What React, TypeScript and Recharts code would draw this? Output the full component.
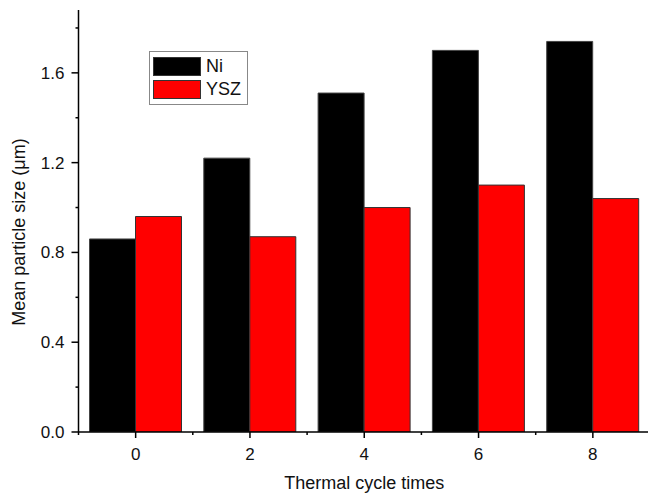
import React from 'react';
import { BarChart, Bar, XAxis, YAxis, Legend } from 'recharts';

// Thermal cycle times (x categories) and mean particle sizes in µm
const CYCLES = [0, 2, 4, 6, 8];
const NI_SIZE = [0.86, 1.22, 1.51, 1.70, 1.74];
const YSZ_SIZE = [0.96, 0.87, 1.00, 1.10, 1.04];

// Major ticks get a label, minor ones only a short tick mark
const X_MAJOR = [0, 2, 4, 6, 8];
const X_MINOR = [-1, 1, 3, 5, 7, 9];
const Y_MAJOR = [0, 0.4, 0.8, 1.2, 1.6];
const Y_MINOR = [0.2, 0.6, 1.0, 1.4, 1.8];

const FONT = '"Liberation Sans", Arial, sans-serif';

const data = CYCLES.map((cycle, i) => ({ cycle, ni: NI_SIZE[i], ysz: YSZ_SIZE[i] }));

const XTick = (props: any) => {
  const { x, y, payload } = props;
  const major = X_MAJOR.includes(payload.value);
  return (
    <g>
      <line x1={x} x2={x} y1={y} y2={y + (major ? 6 : 3)} stroke="#000" strokeWidth={1.5} />
      {major && (
        <text x={x} y={y + 16} dy="0.71em" textAnchor="middle" fontSize={17} fill="#111" fontFamily={FONT}>
          {payload.value}
        </text>
      )}
    </g>
  );
};

const YTick = (props: any) => {
  const { x, y, payload } = props;
  const major = Y_MAJOR.includes(payload.value);
  return (
    <g>
      <line x1={x - (major ? 7 : 3)} x2={x} y1={y} y2={y} stroke="#000" strokeWidth={1.5} />
      {major && (
        <text x={x - 14} y={y} dy="0.35em" textAnchor="end" fontSize={17} fill="#111" fontFamily={FONT}>
          {payload.value.toFixed(1)}
        </text>
      )}
    </g>
  );
};

const LegendBox = (props: any) => {
  const { payload } = props;
  return (
    <div
      style={{
        border: '1.5px solid #888',
        background: '#fff',
        padding: '3px 6px 3px 3px',
        fontFamily: FONT,
        fontSize: 18,
        color: '#111',
      }}
    >
      {payload.map((p: any) => (
        <div key={p.value} style={{ display: 'flex', alignItems: 'center', height: 23 }}>
          <div style={{ width: 46, height: 17, background: p.color, border: '1px solid #333', marginRight: 5 }} />
          <span>{p.value}</span>
        </div>
      ))}
    </div>
  );
};

export default function App() {
  return (
    <div style={{ position: 'absolute', left: 0, top: 0, width: 648, height: 494, overflow: 'hidden', background: '#fff' }}>
      <BarChart
        width={662}
        height={494}
        data={data}
        margin={{ top: 10, right: 12, left: 0, bottom: 0 }}
        barGap={0}
      >
        <XAxis
          dataKey="cycle"
          type="number"
          domain={[-1, 9]}
          ticks={[...X_MINOR, ...X_MAJOR].sort((a, b) => a - b)}
          interval={0}
          allowDataOverflow
          height={62}
          tickSize={0}
          tickMargin={0}
          tickLine={false}
          tick={<XTick />}
          axisLine={{ stroke: '#000', strokeWidth: 1.5 }}
          label={(p: any) => {
            const vb = p.viewBox;
            return (
              <text x={vb.x + vb.width / 2} y={489} textAnchor="middle" fontSize={18} fill="#111" fontFamily={FONT}>
                Thermal cycle times
              </text>
            );
          }}
        />
        <YAxis
          type="number"
          domain={[0, 1.88]}
          ticks={[...Y_MINOR, ...Y_MAJOR].sort((a, b) => a - b)}
          interval={0}
          allowDataOverflow
          width={78.5}
          tickSize={0}
          tickMargin={0}
          tickLine={false}
          tick={<YTick />}
          axisLine={{ stroke: '#000', strokeWidth: 1.5 }}
          label={() => (
            <text
              x={0}
              y={0}
              transform="translate(25, 232) rotate(-90)"
              textAnchor="middle"
              fontSize={18}
              fill="#111"
              fontFamily={FONT}
            >
              Mean particle size (μm)
            </text>
          )}
        />
        <Legend
          layout="horizontal"
          align="center"
          verticalAlign="middle"
          content={<LegendBox />}
          wrapperStyle={{ position: 'absolute', left: 149, top: 51, width: 'auto' }}
        />
        <Bar dataKey="ni" name="Ni" fill="#000" stroke="#444" strokeWidth={1} barSize={46} isAnimationActive={false} />
        <Bar dataKey="ysz" name="YSZ" fill="#ff0000" stroke="#333" strokeWidth={1} barSize={46} isAnimationActive={false} />
      </BarChart>
    </div>
  );
}
